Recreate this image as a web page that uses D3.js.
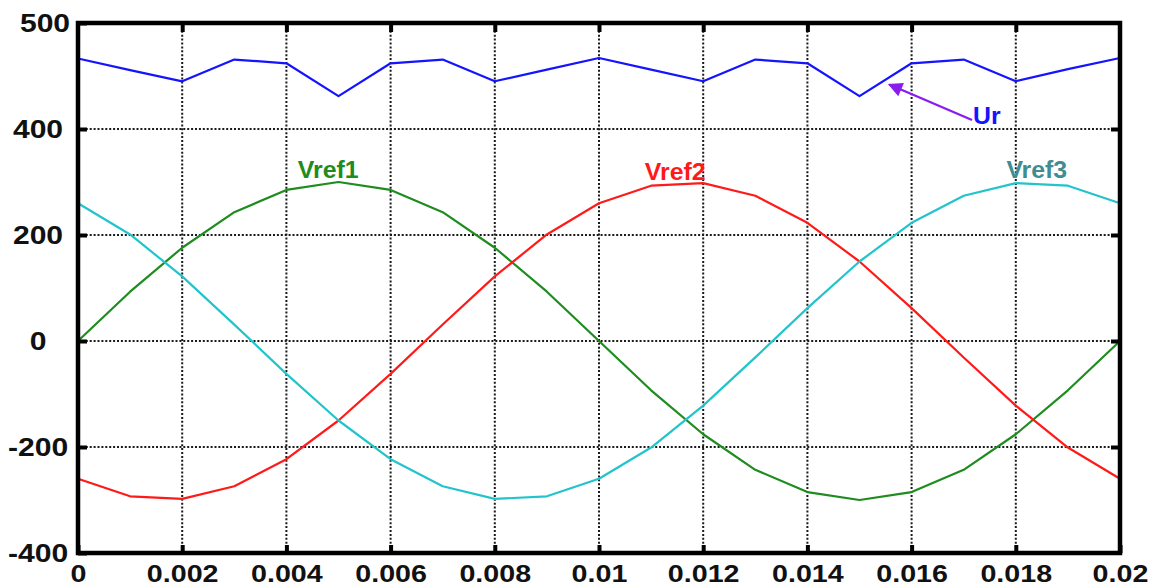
<!DOCTYPE html>
<html>
<head>
<meta charset="utf-8">
<script src="https://cdn.jsdelivr.net/npm/d3@7/dist/d3.min.js"></script>
<style>
  body { margin: 0; background: #fff; }
  svg { display: block; font-family: "Liberation Sans", Arial, sans-serif; font-weight: bold; }
</style>
</head>
<body>
<div id="chart"></div>
<script>
"use strict";
// time samples (s)
const time = [0, 0.001, 0.002, 0.003, 0.004, 0.005, 0.006, 0.007, 0.008, 0.009, 0.01,
  0.011, 0.012, 0.013, 0.014, 0.015, 0.016, 0.017, 0.018, 0.019, 0.02];
// values
const ur    = [533, 511, 490, 531, 524, 462, 524, 531, 490, 512, 534, 512, 490, 531, 524, 462, 524, 531, 490, 513, 534];
const vref1 = [0, 93, 176, 243, 285, 300, 285, 243, 176, 93, 0, -93, -176, -243, -285, -300, -285, -243, -176, -93, 0];
const vref2 = [-260, -293, -298, -274, -223, -150, -62, 31, 122, 201, 260, 293, 298, 274, 223, 150, 62, -31, -122, -201, -260];
const vref3 = [260, 201, 122, 31, -62, -150, -223, -274, -298, -293, -260, -201, -122, -31, 62, 150, 223, 274, 298, 293, 260];

const xTicks = [0, 0.002, 0.004, 0.006, 0.008, 0.01, 0.012, 0.014, 0.016, 0.018, 0.02];
const xTickLabels = ["0", "0.002", "0.004", "0.006", "0.008", "0.01", "0.012", "0.014", "0.016", "0.018", "0.02"];
const yTicks = [-400, -200, 0, 200, 400, 600];
const yTickLabels = ["-400", "-200", "0", "200", "400", "500"];

const W = 1159, H = 587;
const pLeft = 78, pRight = 1120, pTop = 23, pBottom = 553;

const x = d3.scaleLinear().domain([0, 0.02]).range([pLeft, pRight]);
const y = d3.scaleLinear().domain([-400, 600]).range([pBottom, pTop]);

const svg = d3.select("#chart").append("svg")
  .attr("width", W)
  .attr("height", H);

svg.append("rect").attr("width", W).attr("height", H).attr("fill", "#fff");

const inner = xTicks.slice(1, -1);
const innerY = yTicks.slice(1, -1);

//dotted grid
svg.append("g")
  .selectAll("line")
  .data(inner)
  .join("line")
  .attr("x1", d => x(d)).attr("x2", d => x(d))
  .attr("y1", pTop).attr("y2", pBottom)
  .attr("stroke", "#1a1a1a").attr("stroke-width", 2)
  .attr("stroke-dasharray", "2,1.9");

svg.append("g")
  .selectAll("line")
  .data(innerY)
  .join("line")
  .attr("x1", pLeft).attr("x2", pRight)
  .attr("y1", d => y(d)).attr("y2", d => y(d))
  .attr("stroke", "#1a1a1a").attr("stroke-width", 2)
  .attr("stroke-dasharray", "2,1.9");

//series
const series = [
  { name: "Ur", values: ur, color: "#1414ff" },
  { name: "Vref1", values: vref1, color: "#1e8c1e" },
  { name: "Vref2", values: vref2, color: "#ff1a1a" },
  { name: "Vref3", values: vref3, color: "#22c4cc" }
];

const line = d3.line()
  .x((d, i) => x(time[i]))
  .y(d => y(d));

svg.append("g")
  .selectAll("path")
  .data(series)
  .join("path")
  .attr("d", d => line(d.values))
  .attr("fill", "none")
  .attr("stroke", d => d.color)
  .attr("stroke-width", 2.2)
  .attr("stroke-linejoin", "round");

//axes with inward ticks
const bottomAxis = d3.axisBottom(x).tickValues(xTicks)
  .tickFormat((d, i) => xTickLabels[i]).tickSize(-8).tickPadding(12);
const topAxis = d3.axisTop(x).tickValues(inner).tickFormat("").tickSize(-9);
const leftAxis = d3.axisLeft(y).tickValues(yTicks)
  .tickFormat((d, i) => yTickLabels[i]).tickSize(-9);
const rightAxis = d3.axisRight(y).tickValues(innerY).tickFormat("").tickSize(-9);

function styleAxis(g) {
  g.select(".domain").remove();
  g.selectAll(".tick line").attr("stroke", "#000").attr("stroke-width", 4);
  g.selectAll("text").attr("fill", "#111").attr("font-size", 24.5).attr("font-weight", "bold");
}

svg.append("g").attr("transform", `translate(0,${pBottom})`).call(bottomAxis).call(styleAxis)
  .selectAll("text").attr("transform", "scale(1.17,1)");
svg.append("g").attr("transform", `translate(0,${pTop})`).call(topAxis).call(styleAxis);
const gl = svg.append("g").attr("transform", `translate(${pLeft},0)`).call(leftAxis).call(styleAxis);
gl.selectAll("text")
  .attr("text-anchor", "middle")
  .attr("x", 0)
  .attr("font-size", 25.5)
  .attr("transform", (d, i) => `translate(${i === yTicks.length - 1 ? -33 : -40},0) scale(1.18,1)`);
svg.append("g").attr("transform", `translate(${pRight},0)`).call(rightAxis).call(styleAxis);

//frame
svg.append("rect")
  .attr("x", pLeft).attr("y", pTop)
  .attr("width", pRight - pLeft).attr("height", pBottom - pTop)
  .attr("fill", "none").attr("stroke", "#000").attr("stroke-width", 4.5);

//labels
const labels = [
  { text: "Vref1", t: 0.00422, v: 307, color: "#1e8c1e" },
  { text: "Vref2", t: 0.01088, v: 303, color: "#ff1a1a" },
  { text: "Vref3", t: 0.01782, v: 308, color: "#3f8d91" },
  { text: "Ur", t: 0.01718, v: 410, color: "#1414ff" }
];
svg.append("g")
  .selectAll("text")
  .data(labels)
  .join("text")
  .attr("transform", d => `translate(${x(d.t)},${y(d.v)}) scale(1.08,1)`)
  .attr("fill", d => d.color)
  .attr("font-size", 23)
  .text(d => d.text);

//arrow pointing at Ur
svg.append("defs").append("marker")
  .attr("id", "head")
  .attr("viewBox", "0 0 10 10")
  .attr("refX", 9).attr("refY", 5)
  .attr("markerWidth", 8).attr("markerHeight", 6)
  .attr("markerUnits", "strokeWidth")
  .attr("orient", "auto")
  .append("path").attr("d", "M0,0L10,5L0,10Z").attr("fill", "#8a1cf0");

svg.append("line")
  .attr("x1", x(0.01716)).attr("y1", y(417))
  .attr("x2", x(0.01557)).attr("y2", y(484))
  .attr("stroke", "#8a1cf0").attr("stroke-width", 2.4)
  .attr("marker-end", "url(#head)");
</script>
</body>
</html>
